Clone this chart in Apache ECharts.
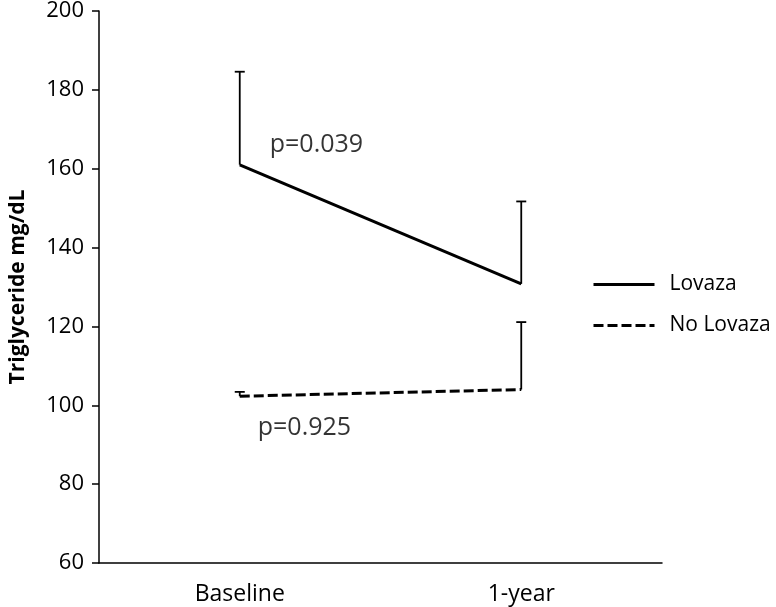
<!DOCTYPE html>
<html lang="en" style="height: 100%">
<head>
  <meta charset="utf-8">
</head>
<body style="height: 100%; margin: 0">
  <div id="container" style="width: 776px; height: 607px"></div>
  <script type="text/javascript" src="https://fastly.jsdelivr.net/npm/echarts@6/dist/echarts.min.js"></script>
  <script type="text/javascript">
    var categories = ['Baseline', '1-year'];
    var lovaza = [161.0, 130.8];
    var lovazaErrTop = [184.6, 151.7];
    var noLovaza = [102.3, 104.0];
    var noLovazaErrTop = [103.4, 121.1];
    var pLovaza = 'p=0.039';
    var pNoLovaza = 'p=0.925';

    var FONT = '"Open Sans", sans-serif';

    var dom = document.getElementById('container');
    var myChart = echarts.init(dom, null, { renderer: 'canvas' });

    // error bars: vertical line from mean up to mean+SE, with a small cap
    function errorBar(params, api) {
      var base = api.coord([api.value(0), api.value(1)]);
      var top = api.coord([api.value(0), api.value(2)]);
      var style = { stroke: '#000', lineWidth: 1.8 };
      return {
        type: 'group',
        children: [
          { type: 'line', shape: { x1: base[0], y1: base[1], x2: top[0], y2: top[1] }, style: style },
          { type: 'line', shape: { x1: top[0] - 5, y1: top[1], x2: top[0] + 5, y2: top[1] }, style: style }
        ]
      };
    }

    var option = {
      animation: false,
      backgroundColor: '#fff',
      grid: { left: 94, right: 114, top: 10, bottom: 44 },
      legend: {
        data: ['Lovaza', 'No Lovaza'],
        orient: 'vertical',
        left: 592,
        top: 274,
        padding: 0,
        itemWidth: 61,
        itemHeight: 14,
        itemGap: 20,
        itemStyle: { opacity: 0 },
        lineStyle: { width: 3 },
        textStyle: { fontFamily: FONT, fontSize: 21, color: '#000', padding: [0, 0, 0, 10] }
      },
      xAxis: {
        type: 'category',
        data: categories,
        axisLine: { lineStyle: { color: '#000', width: 1.5 } },
        axisTick: { show: false },
        axisLabel: { fontFamily: FONT, fontSize: 23, color: '#000', margin: 20 }
      },
      yAxis: {
        type: 'value',
        min: 60,
        max: 200,
        interval: 20,
        name: 'Triglyceride mg/dL',
        nameLocation: 'middle',
        nameGap: 70,
        nameTextStyle: { fontFamily: FONT, fontSize: 21, fontWeight: 'bold', color: '#000' },
        axisLine: { show: true, lineStyle: { color: '#000', width: 1.5 } },
        axisTick: { show: true, length: 7, lineStyle: { color: '#000', width: 1.5 } },
        axisLabel: { fontFamily: FONT, fontSize: 22, color: '#000', margin: 15 },
        splitLine: { show: false }
      },
      series: [
        {
          name: 'Lovaza',
          type: 'line',
          data: lovaza,
          symbol: 'none',
          lineStyle: { color: '#000', width: 3 },
          itemStyle: { color: '#000' }
        },
        {
          name: 'No Lovaza',
          type: 'line',
          data: noLovaza,
          symbol: 'none',
          lineStyle: { color: '#000', width: 3, type: [10, 4] },
          itemStyle: { color: '#000' }
        },
        {
          name: 'errLovaza',
          type: 'custom',
          renderItem: errorBar,
          data: categories.map(function (c, i) { return [i, lovaza[i], lovazaErrTop[i]]; }),
          z: 1
        },
        {
          name: 'errNoLovaza',
          type: 'custom',
          renderItem: errorBar,
          data: categories.map(function (c, i) { return [i, noLovaza[i], noLovazaErrTop[i]]; }),
          z: 1
        },
        {
          name: 'pValues',
          type: 'scatter',
          symbolSize: 0,
          silent: true,
          data: [
            { value: [0, lovaza[0]], label: { formatter: pLovaza, offset: [30, -20] } },
            { value: [0, noLovaza[0]], label: { formatter: pNoLovaza, offset: [18, 32] } }
          ],
          label: {
            show: true,
            position: 'right',
            distance: 0,
            fontFamily: FONT,
            fontSize: 25,
            color: '#000'
          }
        }
      ]
    };

    myChart.setOption(option);
    window.addEventListener('resize', myChart.resize);
  </script>
</body>
</html>
